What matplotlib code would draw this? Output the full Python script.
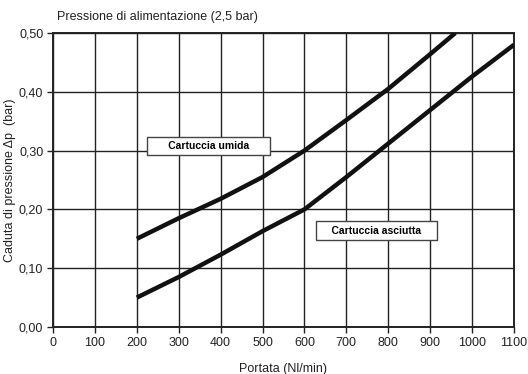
import matplotlib.pyplot as plt
from matplotlib.ticker import FuncFormatter

plt.rcParams['font.family'] = ['Liberation Sans', 'DejaVu Sans']

# Dati
portata_umida = [200, 300, 400, 500, 600, 700, 800, 900, 960]
dp_umida = [0.15, 0.185, 0.218, 0.255, 0.30, 0.352, 0.405, 0.464, 0.50]

portata_asciutta = [200, 300, 400, 500, 600, 700, 800, 900, 1000, 1100]
dp_asciutta = [0.05, 0.085, 0.123, 0.163, 0.20, 0.255, 0.312, 0.369, 0.426, 0.48]

x_ticks = list(range(0, 1200, 100))
y_ticks = [0.0, 0.1, 0.2, 0.3, 0.4, 0.5]

fig = plt.figure(figsize=(5.28, 3.74), dpi=100)
ax = fig.add_axes([0.1004, 0.1257, 0.873, 0.786])

ax.plot(portata_umida, dp_umida, color='#111111', lw=3.2, solid_capstyle='butt', zorder=3)
ax.plot(portata_asciutta, dp_asciutta, color='#111111', lw=3.2, solid_capstyle='butt', zorder=3)

ax.set_xlim(0, 1100)
ax.set_ylim(0, 0.5)
ax.set_xticks(x_ticks)
ax.set_yticks(y_ticks)
ax.yaxis.set_major_formatter(FuncFormatter(lambda v, p: f"{v:.2f}".replace('.', ',')))
ax.grid(color='#222222', lw=1.0)
ax.set_axisbelow(True)
for s in ax.spines.values():
    s.set_linewidth(1.4)
    s.set_color('#222222')
ax.tick_params(direction='out', length=4, width=1, labelsize=9, colors='#222222', pad=3)

ax.set_xlabel("Portata (Nl/min)", fontsize=9, labelpad=10, color='#222222')
ax.set_ylabel("Caduta di pressione Δp  (bar)", fontsize=9, labelpad=2, color='#222222')
fig.text(57 / 528, 1 - 17 / 374, "Pressione di alimentazione (2,5 bar)", fontsize=9,
         va='center', ha='left', color='#222222')

box = dict(boxstyle='square,pad=0.4', fc='white', ec='#444444', lw=1)
ax.text(371, 0.308, "      Cartuccia umida      ", fontsize=7.5, fontweight='bold',
        ha='center', va='center', bbox=box, zorder=4)
ax.text(772, 0.164, "    Cartuccia asciutta    ", fontsize=7.5, fontweight='bold',
        ha='center', va='center', bbox=box, zorder=4)

fig.savefig("out.png", dpi=100)
